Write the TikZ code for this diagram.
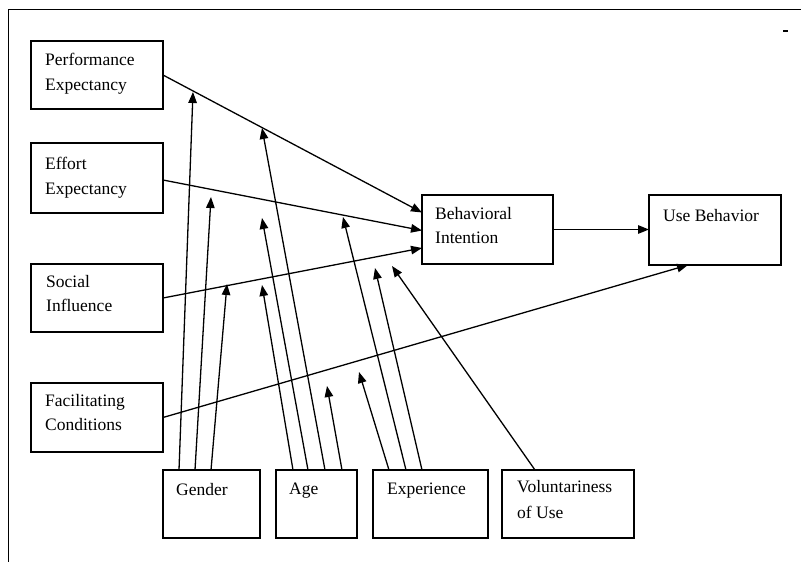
\documentclass[tikz,border=0pt]{standalone}
\usepackage{fontspec}
\setmainfont{Liberation Serif}
\usetikzlibrary{arrows.meta,calc}
\begin{document}
\begin{tikzpicture}[x=1pt,y=-1pt,
  box/.style={draw, line width=1.5pt, inner sep=0pt, outer sep=0pt},
  lbl/.style={anchor=north west, inner sep=0pt, align=left,
    font=\fontsize{17.5}{24.5}\selectfont},
  conn/.style={line width=1.3pt, -{Triangle[length=11pt,width=8.5pt]}}
]
\useasboundingbox (0,0) rectangle (801,562);
% partial frame
\draw[line width=1pt] (8,562) -- (8,9) -- (801,9);
\draw[line width=1.6pt] (783,31) -- (788,31);

% boxes
\node[box, minimum width=132pt, minimum height=68pt] (pe)  at (97,75) {};
\node[box, minimum width=132pt, minimum height=70pt] (ee)  at (97,178) {};
\node[box, minimum width=132pt, minimum height=68pt] (si)  at (97,298) {};
\node[box, minimum width=132pt, minimum height=69pt] (fc)  at (97,417.5) {};
\node[box, minimum width=97pt,  minimum height=68pt] (gen) at (211.5,504) {};
\node[box, minimum width=81pt,  minimum height=68pt] (age) at (316.5,504) {};
\node[box, minimum width=115pt, minimum height=68pt] (exp) at (430.5,504) {};
\node[box, minimum width=132pt, minimum height=68pt] (vol) at (568,504) {};
\node[box, minimum width=131pt, minimum height=69pt] (bi)  at (487.5,229.5) {};
\node[box, minimum width=132pt, minimum height=70pt] (ub)  at (715,230) {};

% labels
\node[lbl] (pet)  at (45,53)  {Performance\\Expectancy};
\node[lbl] (eet)  at (45,157) {Effort\\Expectancy};
\node[lbl] (sit)  at (46,275) {Social\\Influence};
\node[lbl] (fct)  at (45,394) {Facilitating\\Conditions};
\node[lbl] (bit)  at (435,207) {Behavioral\\Intention};
\node[lbl] (ubt)  at (663,209) {Use Behavior};
\node[lbl] (gent) at (176,483) {Gender};
\node[lbl] (aget) at (289,483) {Age};
\node[lbl] (expt) at (387,483) {Experience};
\node[lbl, font=\fontsize{17.5}{26}\selectfont] (volt) at (517,480) {Voluntariness\\of Use};

% main connectors
\draw[conn] (pe.east) -- ($(bi.west)+(0,-17)$);
\draw[conn] ($(ee.east)+(0,2)$) -- ($(bi.west)+(0,1)$);
\draw[conn] (si.east) -- ($(bi.west)+(0,18.5)$);
\draw[conn] (fc.east) -- ($(ub.south west)+(39,0)$);
\draw[conn] (bi.east) -- (bi.east -| ub.west);

% tips of moderator arrows
\coordinate (g1) at (193,92);
\coordinate (g2) at (211,197);
\coordinate (g3) at (227,284);
\coordinate (a1) at (262,285);
\coordinate (a2) at (262,218);
\coordinate (a3) at (262,128);
\coordinate (a4) at (327,386);
\coordinate (e1) at (359,372);
\coordinate (e2) at (343,217);
\coordinate (e3) at (375,268);
\coordinate (v1) at (392,266);

% moderators
\draw[conn] ($(gen.north west)+(16,0)$) -- (g1);
\draw[conn] ($(gen.north west)+(32,0)$) -- (g2);
\draw[conn] ($(gen.north west)+(48,0)$) -- (g3);
\draw[conn] ($(age.north west)+(17,0)$) -- (a1);
\draw[conn] ($(age.north west)+(32,0)$) -- (a2);
\draw[conn] ($(age.north west)+(49,0)$) -- (a3);
\draw[conn] ($(age.north west)+(66,0)$) -- (a4);
\draw[conn] ($(exp.north west)+(16,0)$) -- (e1);
\draw[conn] ($(exp.north west)+(33,0)$) -- (e2);
\draw[conn] ($(exp.north west)+(49,0)$) -- (e3);
\draw[conn] ($(vol.north west)+(33,0)$) -- (v1);
\end{tikzpicture}
\end{document}
